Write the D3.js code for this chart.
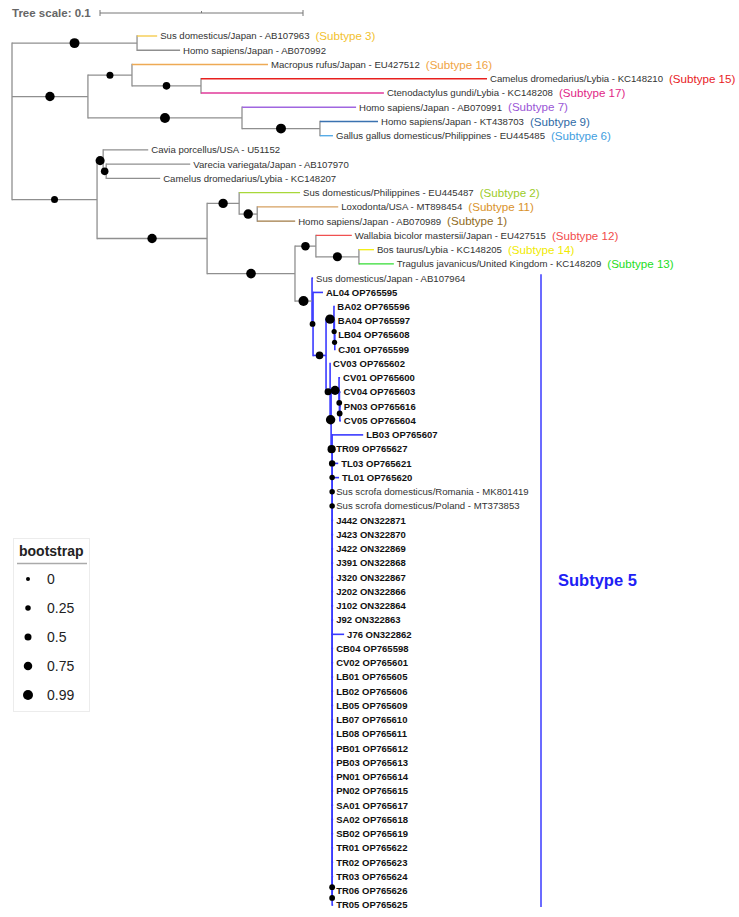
<!DOCTYPE html>
<html><head><meta charset="utf-8">
<script src="https://cdn.jsdelivr.net/npm/d3@7"></script>
<style>
body{margin:0;background:#fff}
svg{display:block}
text{font-family:"Liberation Sans",Arial,sans-serif}
</style>
</head><body>
<svg id="chart" width="739" height="917"></svg>
<script>
// ---------- DATA ----------
// internal nodes: [id, parent, branch length, bootstrap]
const internalNodes = [
  ["root", null, 0, null],
  ["A", "root", 0.0616, 0.99],
  ["B", "root", 0.0374, 0.9],
  ["B1", "B", 0.0217, 0.5],
  ["B1b", "B1", 0.0340, 0.6],
  ["B2", "B", 0.0759, 0.99],
  ["B2b", "B2", 0.0384, 0.99],
  ["C", "root", 0.0419, 0.5],
  ["C1", "C", 0.0030, 0.85],
  ["C1b", "C1", 0.0015, 0.6],
  ["C2", "C", 0.0542, 0.9],
  ["C2a", "C2", 0.0158, 0.9],
  ["C2a2", "C2a", 0.0089, 0.9],
  ["C2b", "C2", 0.0433, 0.95],
  ["C2b1", "C2b", 0.0103, 0.75],
  ["C2b1b", "C2b1", 0.0212, 0.85],
  ["S5", "C2b", 0.0084, 0.99],
  ["X", "S5", 0.0005, 0.3],
  ["Y", "X", 0.0064, 0.6],
  ["G1", "Y", 0.0039, 0.9],
  ["Z", "G1", 0.0002, 0.2],
  ["W", "Z", 0.0002, 0.2],
  ["R", "Y", 0.0020, 0.5],
  ["R2", "R", 0.0005, 0.9],
  ["CVg", "R2", 0.0039, 0.85],
  ["CVg2", "CVg", 0.0002, 0.3],
  ["CVg3", "CVg2", 0.0002, 0.3]
];

// leaves, top to bottom: [label, parent, branch length]
const leaves = [
  ["Sus domesticus/Japan - AB107963", "A", 0.0099],
  ["Homo sapiens/Japan - AB070992", "A", 0.0212],
  ["Macropus rufus/Japan - EU427512", "B1", 0.0670],
  ["Camelus dromedarius/Lybia - KC148210", "B1b", 0.1409],
  ["Ctenodactylus gundi/Lybia - KC148208", "B1b", 0.0901],
  ["Homo sapiens/Japan - AB070991", "B2", 0.0562],
  ["Homo sapiens/Japan - KT438703", "B2b", 0.0286],
  ["Gallus gallus domesticus/Philippines - EU445485", "B2b", 0.0064],
  ["Cavia porcellus/USA - U51152", "C1", 0.0222],
  ["Varecia variegata/Japan - AB107970", "C1b", 0.0414],
  ["Camelus dromedarius/Lybia - KC148207", "C1b", 0.0266],
  ["Sus domesticus/Philippines - EU445487", "C2a", 0.0300],
  ["Loxodonta/USA - MT898454", "C2a2", 0.0399],
  ["Homo sapiens/Japan - AB070989", "C2a2", 0.0187],
  ["Wallabia bicolor mastersii/Japan - EU427515", "C2b1", 0.0177],
  ["Bos taurus/Lybia - KC148205", "C2b1b", 0.0074],
  ["Tragulus javanicus/United Kingdom - KC148209", "C2b1b", 0.0172],
  ["Sus domesticus/Japan - AB107964", "S5", 0.0005],
  ["AL04 OP765595", "X", 0.0049],
  ["BA02 OP765596", "G1", 0.0002],
  ["BA04 OP765597", "Z", 0.0002],
  ["LB04 OP765608", "W", 0.0002],
  ["CJ01 OP765599", "W", 0.0002],
  ["CV03 OP765602", "R", 0.0],
  ["CV01 OP765600", "CVg", 0.0005],
  ["CV04 OP765603", "CVg2", 0.0005],
  ["PN03 OP765616", "CVg3", 0.0005],
  ["CV05 OP765604", "CVg3", 0.0005]
];

// Subtype 5 ladder (each node: one sequence + the next node), top to bottom: [label, branch length]
const ladderParent = "R2";
const ladderLeaves = [
  ["LB03 OP765607", 0.0153],
  ["TR09 OP765627", 0.0005],
  ["TL03 OP765621", 0.0030],
  ["TL01 OP765620", 0.0034],
  ["Sus scrofa domesticus/Romania - MK801419", 0.0005],
  ["Sus scrofa domesticus/Poland - MT373853", 0.0005],
  ["J442 ON322871", 0.0005],
  ["J423 ON322870", 0.0005],
  ["J422 ON322869", 0.0005],
  ["J391 ON322868", 0.0005],
  ["J320 ON322867", 0.0005],
  ["J202 ON322866", 0.0005],
  ["J102 ON322864", 0.0005],
  ["J92 ON322863", 0.0005],
  ["J76 ON322862", 0.0059],
  ["CB04 OP765598", 0.0005],
  ["CV02 OP765601", 0.0005],
  ["LB01 OP765605", 0.0005],
  ["LB02 OP765606", 0.0005],
  ["LB05 OP765609", 0.0005],
  ["LB07 OP765610", 0.0005],
  ["LB08 OP765611", 0.0005],
  ["PB01 OP765612", 0.0005],
  ["PB03 OP765613", 0.0005],
  ["PN01 OP765614", 0.0005],
  ["PN02 OP765615", 0.0005],
  ["SA01 OP765617", 0.0005],
  ["SA02 OP765618", 0.0005],
  ["SB02 OP765619", 0.0005],
  ["TR01 OP765622", 0.0005],
  ["TR02 OP765623", 0.0005],
  ["TR03 OP765624", 0.0005],
  ["TR06 OP765626", 0.0005],
  ["TR05 OP765625", 0.0005]
];
// branch length and bootstrap of the ladder nodes (first node attaches to ladderParent)
const ladderLengths = [0.0005].concat(d3.range(32).map(() => 0));
const ladderSupport = [0.7, 0.4, 0.25, 0.25, 0.25,
  null, null, null, null, null, null, null, null, null, null, null, null, null, null,
  null, null, null, null, null, null, null, null, null, null, null, null, 0.3, 0.3];

// subtype labels of reference sequences
const subtypeLabels = [
  ["Sus domesticus/Japan - AB107963", "Subtype 3"],
  ["Macropus rufus/Japan - EU427512", "Subtype 16"],
  ["Camelus dromedarius/Lybia - KC148210", "Subtype 15"],
  ["Ctenodactylus gundi/Lybia - KC148208", "Subtype 17"],
  ["Homo sapiens/Japan - AB070991", "Subtype 7"],
  ["Homo sapiens/Japan - KT438703", "Subtype 9"],
  ["Gallus gallus domesticus/Philippines - EU445485", "Subtype 6"],
  ["Sus domesticus/Philippines - EU445487", "Subtype 2"],
  ["Loxodonta/USA - MT898454", "Subtype 11"],
  ["Homo sapiens/Japan - AB070989", "Subtype 1"],
  ["Wallabia bicolor mastersii/Japan - EU427515", "Subtype 12"],
  ["Bos taurus/Lybia - KC148205", "Subtype 14"],
  ["Tragulus javanicus/United Kingdom - KC148209", "Subtype 13"]
];
const cladeNode = "S5";
const cladeLabel = "Subtype 5";
const legendValues = [0, 0.25, 0.5, 0.75, 0.99];
const legendTicks = ["0", "0.25", "0.5", "0.75", "0.99"];
const scaleLength = 0.1;

// ---------- STYLE ----------
const subtypeColors = {
  "Subtype 3": "#f2c12e", "Subtype 16": "#f0a444", "Subtype 15": "#e8201e",
  "Subtype 17": "#df1f86", "Subtype 7": "#9a55d6", "Subtype 9": "#2f6aa6",
  "Subtype 6": "#3f9ee0", "Subtype 2": "#9ccc28", "Subtype 11": "#d9922a",
  "Subtype 1": "#8f6a1c", "Subtype 12": "#f24b4b", "Subtype 14": "#f0ea00",
  "Subtype 13": "#23dd23", "Subtype 5": "#2020f5"
};
const branchColors = {
  "Subtype 3": "#f5c842", "Subtype 16": "#eeaa55", "Subtype 15": "#e8201e",
  "Subtype 17": "#e03a9a", "Subtype 7": "#a066e0", "Subtype 9": "#3a72b0",
  "Subtype 6": "#4aa6e6", "Subtype 2": "#a8d83a", "Subtype 11": "#d6a060",
  "Subtype 1": "#a07a45", "Subtype 12": "#f05050", "Subtype 14": "#f2ee10",
  "Subtype 13": "#33dd33"
};
const gray = "#8f8f8f";
const blue = "#3a3aff";

// ---------- BUILD TREE ----------
const rows = [];
internalNodes.forEach(d => rows.push({id: d[0], parent: d[1], len: d[2], boot: d[3], leaf: false}));
leaves.forEach(d => rows.push({id: d[0], parent: d[1], len: d[2], boot: null, leaf: true}));
const nLad = ladderLeaves.length - 1;
for (let k = 0; k < nLad; k++) {
  rows.push({id: "L" + k, parent: k === 0 ? ladderParent : "L" + (k - 1), len: ladderLengths[k], boot: ladderSupport[k], leaf: false});
}
ladderLeaves.forEach((d, i) => rows.push({id: d[0], parent: "L" + Math.min(i, nLad - 1), len: d[1], boot: null, leaf: true}));

const leafOrder = leaves.map(d => d[0]).concat(ladderLeaves.map(d => d[0]));
const root = d3.stratify().id(d => d.id).parentId(d => d.parent)(rows);

const x = d3.scaleLinear().domain([0, 0.1]).range([12, 215]);
const y = d3.scaleLinear().domain([0, leafOrder.length - 1]).range([36, 905]);

root.eachBefore(n => { n.dist = n.parent ? n.parent.dist + n.data.len : 0; n.px = x(n.dist); });
root.eachAfter(n => {
  if (!n.children) n.py = y(leafOrder.indexOf(n.id));
  else {
    const ys = n.children.map(c => c.py);
    n.py = (d3.min(ys) + d3.max(ys)) / 2;
  }
});
const clade = root.find(n => n.id === cladeNode);
const cladeSet = new Set(clade.descendants());
const subMap = new Map(subtypeLabels);

function hColor(n) {
  if (subMap.has(n.id)) return branchColors[subMap.get(n.id)];
  if (cladeSet.has(n) && n !== clade) return blue;
  return gray;
}
function vColor(n) { return cladeSet.has(n) ? blue : gray; }

const svg = d3.select("#chart");
const gTree = svg.append("g");

// vertical connectors
gTree.selectAll("line.v").data(root.descendants().filter(n => n.children)).join("line")
  .attr("x1", n => n.px).attr("x2", n => n.px)
  .attr("y1", n => d3.min(n.children, c => c.py)).attr("y2", n => d3.max(n.children, c => c.py))
  .attr("stroke", vColor).attr("stroke-width", n => cladeSet.has(n) ? 1.6 : 1.3)
  .attr("stroke-linecap", "square");
// horizontal branches
gTree.selectAll("line.h").data(root.descendants().filter(n => n.parent)).join("line")
  .attr("x1", n => n.parent.px).attr("x2", n => n.px)
  .attr("y1", n => n.py).attr("y2", n => n.py)
  .attr("stroke", hColor).attr("stroke-width", n => cladeSet.has(n) && n !== clade ? 1.6 : 1.3);

// bootstrap symbols
const r = d3.scaleLinear().domain([0, 1]).range([2, 5]);
gTree.selectAll("circle.b").data(root.descendants().filter(n => n.parent && n.data.boot != null)).join("circle")
  .attr("cx", n => (n.parent.px + n.px) / 2).attr("cy", n => n.py)
  .attr("r", n => r(n.data.boot)).attr("fill", "#000");

// leaf labels
const leafNodes = root.leaves();
const isRef = n => n.id.includes(" - ");
const lbl = gTree.selectAll("text.leaf").data(leafNodes).join("text")
  .attr("x", n => n.px + 3).attr("y", n => n.py).attr("dy", "0.35em")
  .attr("font-size", n => isRef(n) ? 9.6 : 9.5)
  .attr("font-weight", n => isRef(n) ? "normal" : "bold")
  .attr("fill", n => isRef(n) ? "#333" : "#111")
  .text(n => n.id);
lbl.each(function(n) { n.textEnd = n.px + 3 + this.getComputedTextLength(); });

// subtype labels
gTree.selectAll("text.sub").data(leafNodes.filter(n => subMap.has(n.id))).join("text")
  .attr("x", n => n.textEnd + 6).attr("y", n => n.py).attr("dy", "0.35em")
  .attr("font-size", 11.6).attr("fill", n => subtypeColors[subMap.get(n.id)])
  .text(n => "(" + subMap.get(n.id) + ")");

// clade bracket
const cl = clade.leaves();
const by0 = d3.min(cl, n => n.py) - 4, by1 = d3.max(cl, n => n.py) + 2;
const bx = 541;
svg.append("line").attr("x1", bx).attr("x2", bx).attr("y1", by0).attr("y2", by1)
  .attr("stroke", blue).attr("stroke-width", 1.5);
svg.append("text").attr("x", bx + 17).attr("y", (by0 + by1) / 2 - 10).attr("dy", "0.35em")
  .attr("font-size", 16.5).attr("font-weight", "bold").attr("fill", subtypeColors[cladeLabel])
  .text(cladeLabel);

// tree scale
const sb = svg.append("g");
sb.append("text").attr("x", 12).attr("y", 17).attr("font-size", 11.5).attr("font-weight", "bold")
  .attr("fill", "#666").text("Tree scale: " + scaleLength);
const sx0 = 100, sx1 = sx0 + (x(scaleLength) - x(0));
sb.append("line").attr("x1", sx0).attr("x2", sx1).attr("y1", 13).attr("y2", 13).attr("stroke", "#777");
[sx0, sx1].forEach(v => sb.append("line").attr("x1", v).attr("x2", v).attr("y1", 10).attr("y2", 16).attr("stroke", "#777"));
sb.append("line").attr("x1", (sx0 + sx1) / 2).attr("x2", (sx0 + sx1) / 2).attr("y1", 11).attr("y2", 13).attr("stroke", "#777");

// legend
const lg = svg.append("g");
lg.append("rect").attr("x", 13.5).attr("y", 538.5).attr("width", 76).attr("height", 173)
  .attr("fill", "#fff").attr("stroke", "#ececec");
lg.append("text").attr("x", 19).attr("y", 556).attr("font-size", 14).attr("font-weight", "bold")
  .attr("fill", "#222").text("bootstrap");
lg.append("line").attr("x1", 17).attr("x2", 87).attr("y1", 563.5).attr("y2", 563.5)
  .attr("stroke", "#aaa").attr("stroke-width", 1.5);
const ly = d3.scalePoint().domain(legendTicks).range([579, 695]);
legendValues.forEach((v, i) => {
  lg.append("circle").attr("cx", 28).attr("cy", ly(legendTicks[i])).attr("r", r(v)).attr("fill", "#000");
  lg.append("text").attr("x", 47).attr("y", ly(legendTicks[i])).attr("dy", "0.35em")
    .attr("font-size", 14).attr("fill", "#222").text(legendTicks[i]);
});
</script>
</body></html>
